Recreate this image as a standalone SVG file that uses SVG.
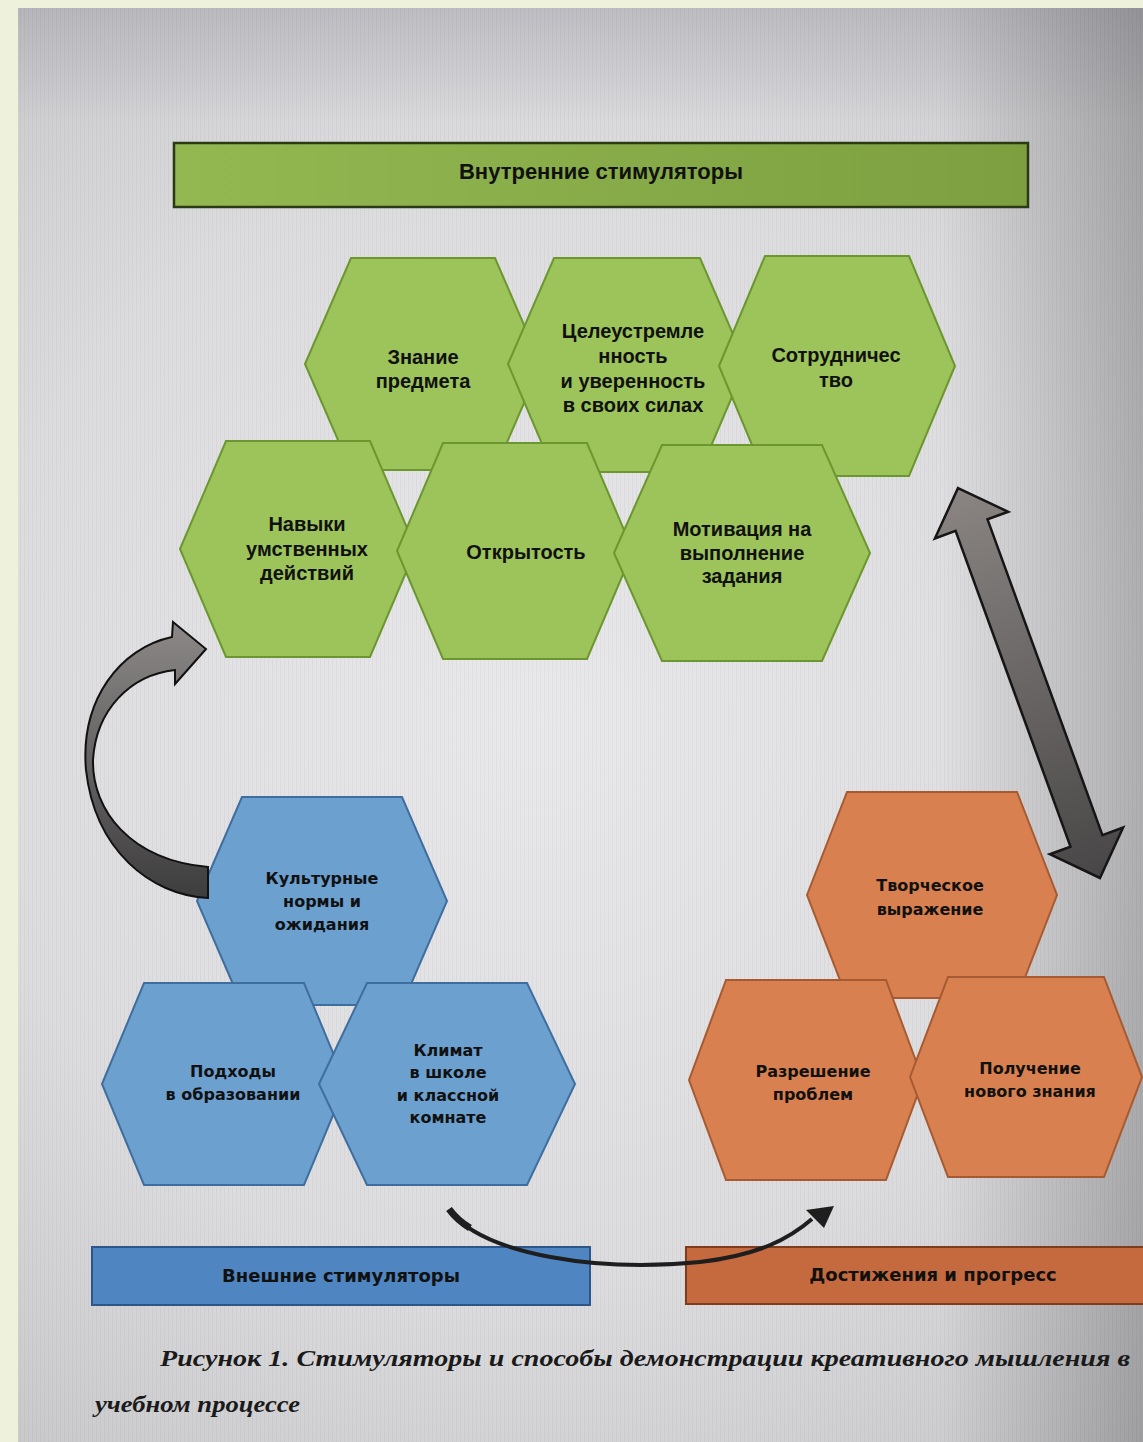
<svg xmlns="http://www.w3.org/2000/svg" width="1143" height="1442" viewBox="0 0 1143 1442">
<defs>
<radialGradient id="paper" cx="540" cy="720" r="950" gradientUnits="userSpaceOnUse">
<stop offset="0" stop-color="#e9e9eb"/>
<stop offset="0.6" stop-color="#dcdcdf"/>
<stop offset="1" stop-color="#c6c6c9"/>
</radialGradient>
<linearGradient id="rightShade" x1="0" y1="0" x2="1" y2="0">
<stop offset="0" stop-color="#000" stop-opacity="0"/>
<stop offset="0.82" stop-color="#000" stop-opacity="0"/>
<stop offset="1" stop-color="#000" stop-opacity="0.2"/>
</linearGradient>
<linearGradient id="topShade" x1="0" y1="0" x2="0" y2="1">
<stop offset="0" stop-color="#556" stop-opacity="0.18"/>
<stop offset="0.08" stop-color="#556" stop-opacity="0"/>
<stop offset="1" stop-color="#556" stop-opacity="0"/>
</linearGradient>
<linearGradient id="greenBar" x1="0" y1="0" x2="1" y2="0">
<stop offset="0" stop-color="#93b851"/>
<stop offset="1" stop-color="#7d9f40"/>
</linearGradient>
<linearGradient id="dblArrow" x1="0" y1="0" x2="1" y2="0">
<stop offset="0" stop-color="#8a8583"/>
<stop offset="1" stop-color="#484646"/>
</linearGradient>
<linearGradient id="curveArrow" x1="0" y1="0" x2="0" y2="1">
<stop offset="0" stop-color="#8c8888"/>
<stop offset="1" stop-color="#3e3d3d"/>
</linearGradient>
<pattern id="lines" width="4" height="4" patternUnits="userSpaceOnUse">
<rect x="0" y="0" width="1" height="4" fill="#000" fill-opacity="0.035"/>
</pattern>
</defs>
<style>
.hg{fill:#9dc35b;stroke:#6c962f;stroke-width:2}
.hb{fill:#6ca0cf;stroke:#3f6e9e;stroke-width:2}
.ho{fill:#d88050;stroke:#a65a31;stroke-width:2}
.tg{font-family:"Liberation Sans",Arial,sans-serif;font-weight:bold;font-size:20px;fill:#111;text-anchor:middle}
.tb{font-family:"DejaVu Sans",Verdana,sans-serif;font-weight:bold;font-size:16px;fill:#111;text-anchor:middle}
.bar{font-family:"DejaVu Sans",Verdana,sans-serif;font-weight:bold;font-size:18px;fill:#111;text-anchor:middle}
.cap{font-family:"Liberation Serif","Times New Roman",serif;font-style:italic;font-weight:bold;font-size:24px;fill:#1a1a1a}
</style>
<rect x="0" y="0" width="1143" height="1442" fill="#eef2dc"/>
<rect x="18" y="8" width="1125" height="1434" fill="url(#paper)"/>
<rect x="18" y="8" width="1125" height="1434" fill="url(#rightShade)"/>
<rect x="18" y="8" width="1125" height="1434" fill="url(#topShade)"/>
<rect x="18" y="8" width="1125" height="1434" fill="url(#lines)"/>

<g id="banner-internal">
<rect x="174" y="143" width="854" height="64" fill="url(#greenBar)" stroke="#2a3a14" stroke-width="2.5"/>
<text x="601" y="179" font-family="Liberation Sans,Arial,sans-serif" font-weight="bold" font-size="22" fill="#111" text-anchor="middle">Внутренние стимуляторы</text>
</g>

<g id="hex-znanie">
<polygon class="hg" points="305,364 351,258 495,258 541,364 495,470 351,470"/>
<text class="tg" x="423" y="364">Знание</text>
<text class="tg" x="423" y="388">предмета</text>
</g>
<g id="hex-tseleustremlennost">
<polygon class="hg" points="508,364 554,258 700,258 746,364 700,472 554,472"/>
<text class="tg" x="633" y="338">Целеустремле</text>
<text class="tg" x="633" y="363">нность</text>
<text class="tg" x="633" y="388">и уверенность</text>
<text class="tg" x="633" y="412">в своих силах</text>
</g>
<g id="hex-sotrudnichestvo">
<polygon class="hg" points="719,366 765,256 909,256 955,366 909,476 765,476"/>
<text class="tg" x="836" y="362">Сотрудничес</text>
<text class="tg" x="836" y="387">тво</text>
</g>
<g id="hex-navyki">
<polygon class="hg" points="180,549 226,441 370,441 416,549 370,657 226,657"/>
<text class="tg" x="307" y="531">Навыки</text>
<text class="tg" x="307" y="556">умственных</text>
<text class="tg" x="307" y="580">действий</text>
</g>
<g id="hex-otkrytost">
<polygon class="hg" points="397,551 443,443 587,443 633,551 587,659 443,659"/>
<text class="tg" x="526" y="559">Открытость</text>
</g>
<g id="hex-motivatsiya">
<polygon class="hg" points="614,553 662,445 822,445 870,553 822,661 662,661"/>
<text class="tg" x="742" y="536">Мотивация на</text>
<text class="tg" x="742" y="560">выполнение</text>
<text class="tg" x="742" y="583">задания</text>
</g>

<g id="hex-kulturnye">
<polygon class="hb" points="197,901 242,797 402,797 447,901 402,1005 242,1005"/>
<text class="tb" x="322" y="884">Культурные</text>
<text class="tb" x="322" y="907">нормы и</text>
<text class="tb" x="322" y="930">ожидания</text>
</g>
<g id="hex-podkhody">
<polygon class="hb" points="102,1084 144,983 304,983 346,1084 304,1185 144,1185"/>
<text class="tb" x="233" y="1077">Подходы</text>
<text class="tb" x="233" y="1100">в образовании</text>
</g>
<g id="hex-klimat">
<polygon class="hb" points="319,1084 367,983 527,983 575,1084 527,1185 367,1185"/>
<text class="tb" x="448" y="1056">Климат</text>
<text class="tb" x="448" y="1078">в школе</text>
<text class="tb" x="448" y="1101">и классной</text>
<text class="tb" x="448" y="1123">комнате</text>
</g>

<g id="hex-tvorcheskoe">
<polygon class="ho" points="807,895 847,792 1017,792 1057,895 1017,998 847,998"/>
<text class="tb" x="930" y="891">Творческое</text>
<text class="tb" x="930" y="915">выражение</text>
</g>
<g id="hex-razreshenie">
<polygon class="ho" points="689,1080 726,980 886,980 923,1080 886,1180 726,1180"/>
<text class="tb" x="813" y="1077">Разрешение</text>
<text class="tb" x="813" y="1100">проблем</text>
</g>
<g id="hex-poluchenie">
<polygon class="ho" points="910,1077 948,977 1104,977 1142,1077 1104,1177 948,1177"/>
<text class="tb" x="1030" y="1074">Получение</text>
<text class="tb" x="1030" y="1097">нового знания</text>
</g>

<g id="banner-external">
<rect x="92" y="1247" width="498" height="58" fill="#4f86c2" stroke="#2d5686" stroke-width="2"/>
<text class="bar" x="341" y="1282">Внешние стимуляторы</text>
</g>
<g id="banner-achievements">
<rect x="686" y="1247" width="470" height="57" fill="#c56a3e" stroke="#7e3c1c" stroke-width="2"/>
<text class="bar" x="933" y="1281">Достижения и прогресс</text>
</g>

<g id="connectors">
<path d="M208,898 C150,895 95,850 86,770 C80,700 120,648 172,637 L173,622 L206,649 L175,684 L175,670 C130,675 96,710 93,760 C92,810 130,860 208,867 Z" fill="url(#curveArrow)" stroke="#111" stroke-width="2" stroke-linejoin="miter"/>
<polygon points="-207.5,0 -168,-39 -168,-17 168,-17 168,-39 207.5,0 168,39 168,17 -168,17 -168,39" transform="translate(1029,683) rotate(70)" fill="url(#dblArrow)" stroke="#161616" stroke-width="2.5" stroke-linejoin="miter"/>
<path d="M449,1210 C485,1256 600,1272 700,1262 C760,1255 790,1238 812,1219" fill="none" stroke="#1e1e1e" stroke-width="4"/>
<path d="M449,1209 Q457,1220 470,1228" fill="none" stroke="#1e1e1e" stroke-width="7"/>
<polygon points="834,1206 806,1210 824,1228" fill="#1e1e1e"/>
</g>

<g id="caption">
<text class="cap" x="160" y="1366" textLength="970" lengthAdjust="spacingAndGlyphs">Рисунок 1. Стимуляторы и способы демонстрации креативного мышления в</text>
<text class="cap" x="95" y="1412" textLength="205" lengthAdjust="spacingAndGlyphs">учебном процессе</text>
</g>
</svg>
